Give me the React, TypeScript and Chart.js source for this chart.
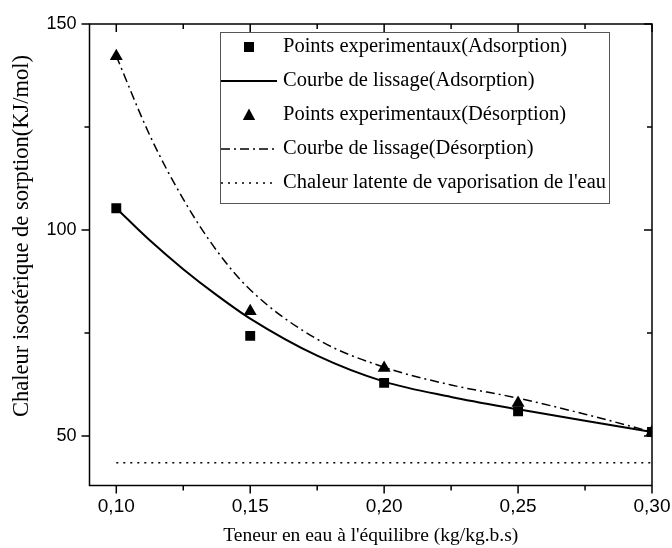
import React, { useEffect, useRef } from 'react';
import { Chart, registerables } from 'chart.js';

Chart.register(...registerables);

// Equilibrium moisture content (kg/kg d.b.) of the measured points
const moisture = [0.10, 0.15, 0.20, 0.25, 0.30];
// Isosteric heat of sorption (kJ/mol), measured
const adsorptionHeat = [105.3, 74.3, 62.9, 56.0, 51.0];
const desorptionHeat = [142.2, 80.3, 66.5, 58.0, 51.0];

// Smoothing curves sampled along the moisture axis
const fitMoisture = [0.10, 0.1125, 0.125, 0.1375, 0.15, 0.175, 0.20, 0.225, 0.25, 0.275, 0.30];
const adsorptionFit = [105.3, 97.5, 90.5, 84.2, 78.5, 69.5, 63.2, 59.5, 56.5, 53.7, 51.0];
const desorptionFit = [142.2, 123.0, 107.5, 95.0, 85.5, 73.5, 66.7, 62.4, 59.2, 55.3, 51.0];

// Latent heat of vaporisation of water (kJ/mol)
const latentRange = [0.10, 0.30];
const latentHeat = 43.5;

const xMajorTicks = [0.10, 0.15, 0.20, 0.25, 0.30];
const xMinorTicks = [0.125, 0.175, 0.225, 0.275];
const yMajorTicks = [50, 100, 150];
const yMinorTicks = [75, 125];

const seriesLabels = [
  'Points experimentaux(Adsorption)',
  'Courbe de lissage(Adsorption)',
  'Points experimentaux(Désorption)',
  'Courbe de lissage(Désorption)',
  "Chaleur latente de vaporisation de l'eau",
];

const xTitle = "Teneur en eau à l'équilibre (kg/kg.b.s)";
const yTitle = 'Chaleur isostérique de sorption(KJ/mol)';

const SERIF = "'Liberation Serif', 'DejaVu Serif', serif";
const SANS = "'Liberation Sans', Arial, sans-serif";

const pairs = (xs: number[], ys: number[]) => xs.map((x, i) => ({ x, y: ys[i] }));

function drawTriangle(ctx: CanvasRenderingContext2D, x: number, y: number, r: number) {
  ctx.beginPath();
  ctx.moveTo(x, y - r);
  ctx.lineTo(x + r * 0.95, y + r * 0.75);
  ctx.lineTo(x - r * 0.95, y + r * 0.75);
  ctx.closePath();
  ctx.fill();
}

// Frame on all four sides with outward ticks on bottom/left, inward on top/right,
// the rotated y-axis title and the boxed legend.
const framePlugin = {
  id: 'originFrame',
  afterDatasetsDraw(chart: any) {
    const { ctx, chartArea: a, scales } = chart;
    const xs = scales.x;
    const ys = scales.y;
    ctx.save();
    ctx.strokeStyle = '#000';
    ctx.lineWidth = 1.5;
    ctx.strokeRect(a.left, a.top, a.right - a.left, a.bottom - a.top);
    const major = 8;
    const minor = 5;
    ctx.beginPath();
    const xTick = (v: number, len: number) => {
      const px = xs.getPixelForValue(v);
      ctx.moveTo(px, a.bottom);
      ctx.lineTo(px, a.bottom + len);
      ctx.moveTo(px, a.top);
      ctx.lineTo(px, a.top + len);
    };
    const yTick = (v: number, len: number) => {
      const py = ys.getPixelForValue(v);
      ctx.moveTo(a.left, py);
      ctx.lineTo(a.left - len, py);
      ctx.moveTo(a.right, py);
      ctx.lineTo(a.right - len, py);
    };
    xMajorTicks.forEach((v) => xTick(v, major));
    xMinorTicks.forEach((v) => xTick(v, minor));
    yMajorTicks.forEach((v) => yTick(v, major));
    yMinorTicks.forEach((v) => yTick(v, minor));
    ctx.stroke();
    ctx.restore();
  },
  afterDraw(chart: any) {
    const { ctx } = chart;

    // y-axis title
    ctx.save();
    ctx.translate(22, 236);
    ctx.rotate(-Math.PI / 2);
    ctx.fillStyle = '#000';
    ctx.font = `22.5px ${SERIF}`;
    ctx.textAlign = 'center';
    ctx.textBaseline = 'middle';
    ctx.fillText(yTitle, 0, 0);
    ctx.restore();

    // legend
    const box = { left: 220, top: 32, right: 609, bottom: 203 };
    ctx.save();
    ctx.fillStyle = '#fff';
    ctx.fillRect(box.left, box.top, box.right - box.left, box.bottom - box.top);
    ctx.strokeStyle = '#555';
    ctx.lineWidth = 1;
    ctx.strokeRect(box.left + 0.5, box.top + 0.5, box.right - box.left, box.bottom - box.top);
    chart.data.datasets.forEach((ds: any, i: number) => {
      const y = 47 + i * 34;
      ctx.fillStyle = '#000';
      ctx.strokeStyle = '#000';
      if (ds.showLine === false) {
        if (ds.pointStyle === 'triangle') {
          drawTriangle(ctx, 249, y, 6.5);
        } else {
          ctx.fillRect(244, y - 5, 10, 10);
        }
      } else {
        ctx.lineWidth = ds.borderWidth;
        ctx.setLineDash(ds.borderDash || []);
        ctx.beginPath();
        ctx.moveTo(221, y);
        ctx.lineTo(277, y);
        ctx.stroke();
        ctx.setLineDash([]);
      }
      ctx.font = `20.5px ${SERIF}`;
      ctx.textBaseline = 'middle';
      ctx.textAlign = 'left';
      ctx.fillText(ds.label, 283, y);
    });
    ctx.restore();
  },
};

export default function App() {
  const canvasRef = useRef<HTMLCanvasElement | null>(null);

  useEffect(() => {
    const canvas = canvasRef.current;
    if (!canvas) return;
    const chart = new Chart(canvas, {
      type: 'scatter',
      data: {
        datasets: [
          {
            label: seriesLabels[0],
            data: pairs(moisture, adsorptionHeat),
            showLine: false,
            pointStyle: 'rect',
            pointRadius: 7,
            backgroundColor: '#000',
            borderColor: '#000',
            borderWidth: 0,
          },
          {
            label: seriesLabels[1],
            data: pairs(fitMoisture, adsorptionFit),
            showLine: true,
            cubicInterpolationMode: 'monotone',
            borderColor: '#000',
            borderWidth: 2,
            pointRadius: 0,
          },
          {
            label: seriesLabels[2],
            data: pairs(moisture, desorptionHeat),
            showLine: false,
            pointStyle: 'triangle',
            pointRadius: 7.5,
            backgroundColor: '#000',
            borderColor: '#000',
            borderWidth: 0,
          },
          {
            label: seriesLabels[3],
            data: pairs(fitMoisture, desorptionFit),
            showLine: true,
            cubicInterpolationMode: 'monotone',
            borderColor: '#000',
            borderWidth: 1.5,
            borderDash: [9, 4, 2, 4],
            pointRadius: 0,
          },
          {
            label: seriesLabels[4],
            data: latentRange.map((x) => ({ x, y: latentHeat })),
            showLine: true,
            borderColor: '#000',
            borderWidth: 1.5,
            borderDash: [2, 5],
            pointRadius: 0,
          },
        ] as any,
      },
      options: {
        responsive: false,
        animation: false,
        layout: { padding: { top: 24, right: 20, left: 0, bottom: 0 } },
        plugins: {
          legend: { display: false },
          tooltip: { enabled: false },
        },
        scales: {
          x: {
            type: 'linear',
            min: 0.09,
            max: 0.30,
            afterBuildTicks: (scale: any) => {
              scale.ticks = xMajorTicks.map((value) => ({ value }));
            },
            afterFit: (scale: any) => {
              scale.height = 62.5;
              scale.paddingLeft = 0;
              scale.paddingRight = 0;
            },
            grid: { display: false, drawTicks: false },
            border: { display: false },
            ticks: {
              padding: 10,
              color: '#000',
              font: { family: SANS, size: 19 },
              maxRotation: 0,
              callback: (v: any) => Number(v).toFixed(2).replace('.', ','),
            },
            title: {
              display: true,
              text: xTitle,
              color: '#000',
              font: { family: SERIF, size: 19.5 },
              padding: { top: 0, bottom: 0 },
            },
          },
          y: {
            type: 'linear',
            min: 38,
            max: 150,
            afterBuildTicks: (scale: any) => {
              scale.ticks = yMajorTicks.map((value) => ({ value }));
            },
            afterFit: (scale: any) => {
              scale.width = 89.5;
              scale.paddingTop = 0;
              scale.paddingBottom = 0;
            },
            grid: { display: false, drawTicks: false },
            border: { display: false },
            ticks: {
              padding: 13,
              color: '#000',
              font: { family: SANS, size: 18 },
              callback: (v: any) => String(v),
            },
          },
        },
      },
      plugins: [framePlugin],
    });
    return () => chart.destroy();
  }, []);

  return (
    <canvas
      ref={canvasRef}
      width={672}
      height={548}
      style={{ position: 'absolute', left: 0, top: 0, background: '#fff' }}
    />
  );
}
